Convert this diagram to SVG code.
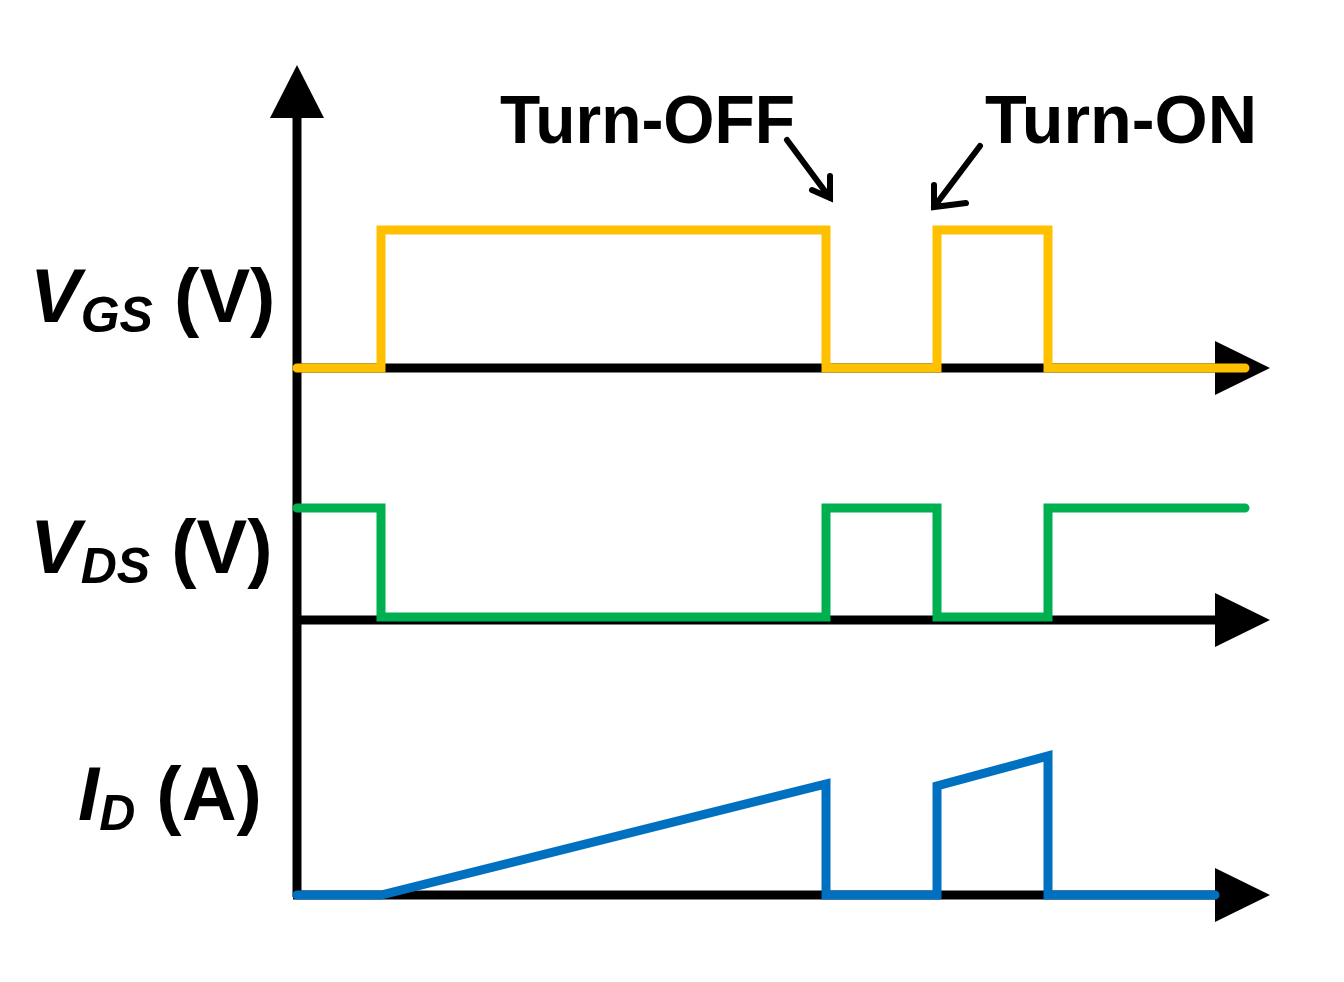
<svg xmlns="http://www.w3.org/2000/svg" width="1344" height="982" viewBox="0 0 1344 982">
<style>
.ax{stroke:#000;stroke-width:9;fill:none}
.w{fill:none;stroke-width:9;stroke-linejoin:miter;stroke-linecap:round}
.t{font-family:"Liberation Sans",Arial,sans-serif;font-weight:bold;fill:#000}
.p{stroke:#000;stroke-width:6;fill:none;stroke-linecap:round;stroke-linejoin:miter}
</style>
<rect width="1344" height="982" fill="#fff"/>
<g id="connectors">
<line class="ax" x1="297" y1="897" x2="297" y2="110"/>
<polygon points="297,65 270,118 324,118"/>
<line class="ax" x1="293" y1="368" x2="1220" y2="368"/>
<polygon points="1270,368 1215,341 1215,395"/>
<line class="ax" x1="293" y1="620" x2="1220" y2="620"/>
<polygon points="1270,620 1215,593 1215,647"/>
<line class="ax" x1="293" y1="895" x2="1220" y2="895"/>
<polygon points="1270,895 1215,868 1215,922"/>
<polyline class="w" stroke="#FFC000" points="297,368 381,368 381,230 826,230 826,368 937,368 937,230 1048,230 1048,368 1245,368"/>
<polyline class="w" stroke="#00B050" points="297,508 381,508 381,617 826,617 826,508 937,508 937,617 1048,617 1048,508 1245,508"/>
<polyline class="w" stroke="#0070C0" points="297,895 381,895 826,784 826,895 937,895 937,786 1048,756 1048,895 1215,895"/>
<path class="p" d="M787,140 L830,198 M812,190 L830,198 L830,176"/>
<path class="p" d="M980,146 L934,207 M934,185 L934,207 L966,203"/>
</g>
<g id="labels">
<text class="t" x="500" y="143" font-size="68" textLength="295" lengthAdjust="spacingAndGlyphs">Turn-OFF</text>
<text class="t" x="985" y="143" font-size="68" textLength="272" lengthAdjust="spacingAndGlyphs">Turn-ON</text>
<text class="t" x="30" y="322" font-size="76"><tspan font-style="italic">V</tspan><tspan font-style="italic" font-size="50" dy="10">GS</tspan><tspan dy="-10"> (V)</tspan></text>
<text class="t" x="30" y="573" font-size="76"><tspan font-style="italic">V</tspan><tspan font-style="italic" font-size="50" dy="10">DS</tspan><tspan dy="-10"> (V)</tspan></text>
<text class="t" x="78" y="820" font-size="76"><tspan font-style="italic">I</tspan><tspan font-style="italic" font-size="50" dy="10">D</tspan><tspan dy="-10"> (A)</tspan></text>
</g>
</svg>
